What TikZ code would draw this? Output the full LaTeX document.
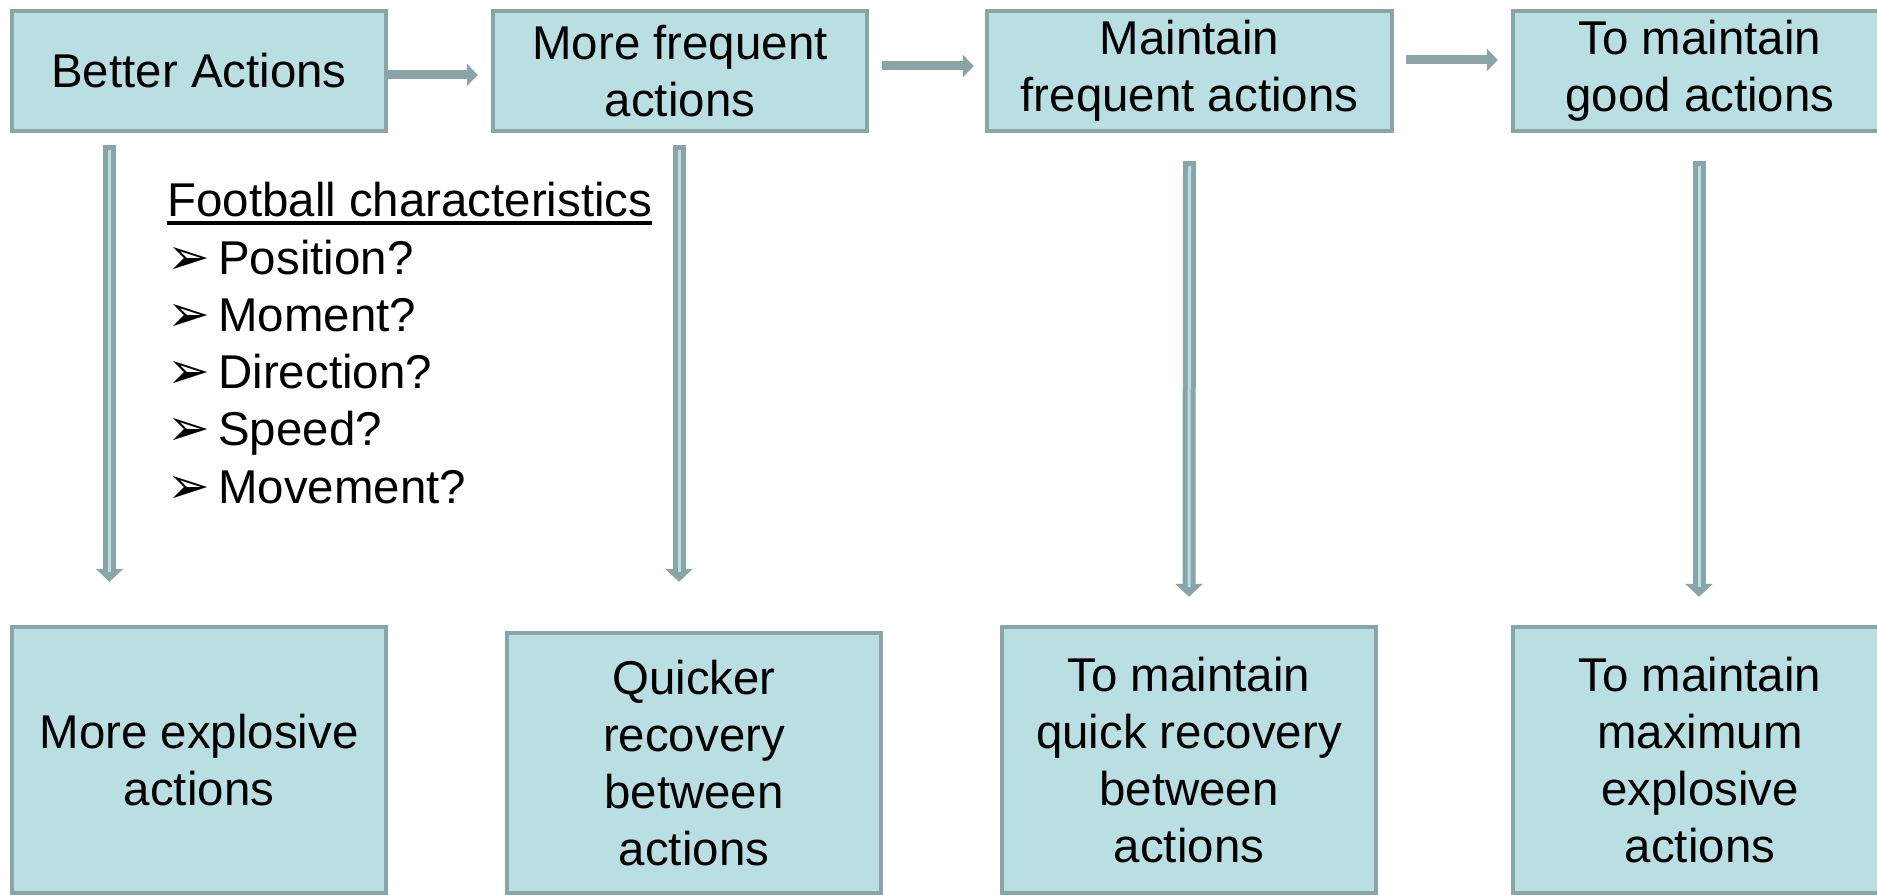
\documentclass[tikz,border=0pt]{standalone}
\usepackage{fontspec}
\setmainfont{Liberation Sans}
\newfontfamily\dingfont{DejaVu Sans}
\usetikzlibrary{arrows.meta,calc}
\definecolor{boxfill}{HTML}{B9DFE2}
\definecolor{boxline}{HTML}{8AA5A7}
\newcommand{\bigtxt}{\fontsize{27}{32.4}\selectfont}
\newcommand{\ultext}[1]{\setbox0\hbox{#1}\rlap{\rule[-0.16cm]{\wd0}{0.07cm}}\box0}
\tikzset{box/.style={draw=boxline,line width=0.09cm,fill=boxfill,align=center,minimum width=7.48cm,inner sep=0pt,font=\bigtxt},
  topbox/.style={box,minimum height=2.4cm},
  botbox/.style={box,minimum height=5.32cm},
  harr/.style={boxline,line width=0.18cm,-{Triangle[length=0.22cm,width=0.44cm]}},
  varr/.style={boxline,line width=0.26cm,-{Triangle[length=0.26cm,width=0.54cm]},
    postaction={draw=boxfill,line width=0.06cm,-,shorten <=0.1cm,shorten >=0.2cm}},
  item/.style={anchor=base west,inner sep=0pt,font=\bigtxt}}

\begin{document}
\begin{tikzpicture}[x=0.02cm,y=-0.02cm]
\useasboundingbox (0,0) rectangle (1877,895);
\clip (0,0) rectangle (1877,895);
% top row
\node[topbox] (top1) at (199,71){Better Actions};
\node[topbox] (top2) at (680,71){More frequent\\actions};
\node[topbox,minimum width=8.1cm] (top3) at (1189.5,71){Maintain\\frequent actions};
\node[topbox] (top4) at (1700,71){To maintain\\good actions};
% bottom row
\node[botbox] (bot1) at (199,760){More explosive\\actions};
\node[botbox,minimum height=5.2cm] (bot2) at (694,763){Quicker\\recovery\\between\\actions};
\node[botbox] (bot3) at (1189,760){To maintain\\quick recovery\\between\\actions};
\node[botbox] (bot4) at (1700,760){To maintain\\maximum\\explosive\\actions};
\draw[harr] ($(top1.east)+(-1,4)$) -- ($(top2.west)+(-13,4)$);
\draw[harr] ($(top2.east)+(13,-5)$) -- ($(top3.west)+(-11,-5)$);
\draw[harr] ($(top3.east)+(12,-11)$) -- ($(top4.west)+(-13,-11)$);
\draw[varr] ($(top1.south)+(-89.5,12)$) -- ($(bot1.north)+(-89.5,-43)$);
\draw[varr] ($(top2.south)+(-1,12)$) -- ($(bot2.north)+(-15,-49)$);
\draw[varr] ($(top3.south)+(0,28)$) -- ($(bot3.north)+(0,-28)$);
\draw[varr] ($(top4.south)+(-1,28)$) -- ($(bot4.north)+(-1,-28)$);
% characteristics list
\node[item] (fc) at (167,217){\ultext{Football characteristics}};
\foreach \t [count=\i] in {Position?,Moment?,Direction?,Speed?,Movement?}
  \node[item] (ch\i) at (167,{217+57.2*\i}){\makebox[1.02cm][l]{\dingfont\fontsize{29}{29}\selectfont ➢}\t};
\end{tikzpicture}
\end{document}
